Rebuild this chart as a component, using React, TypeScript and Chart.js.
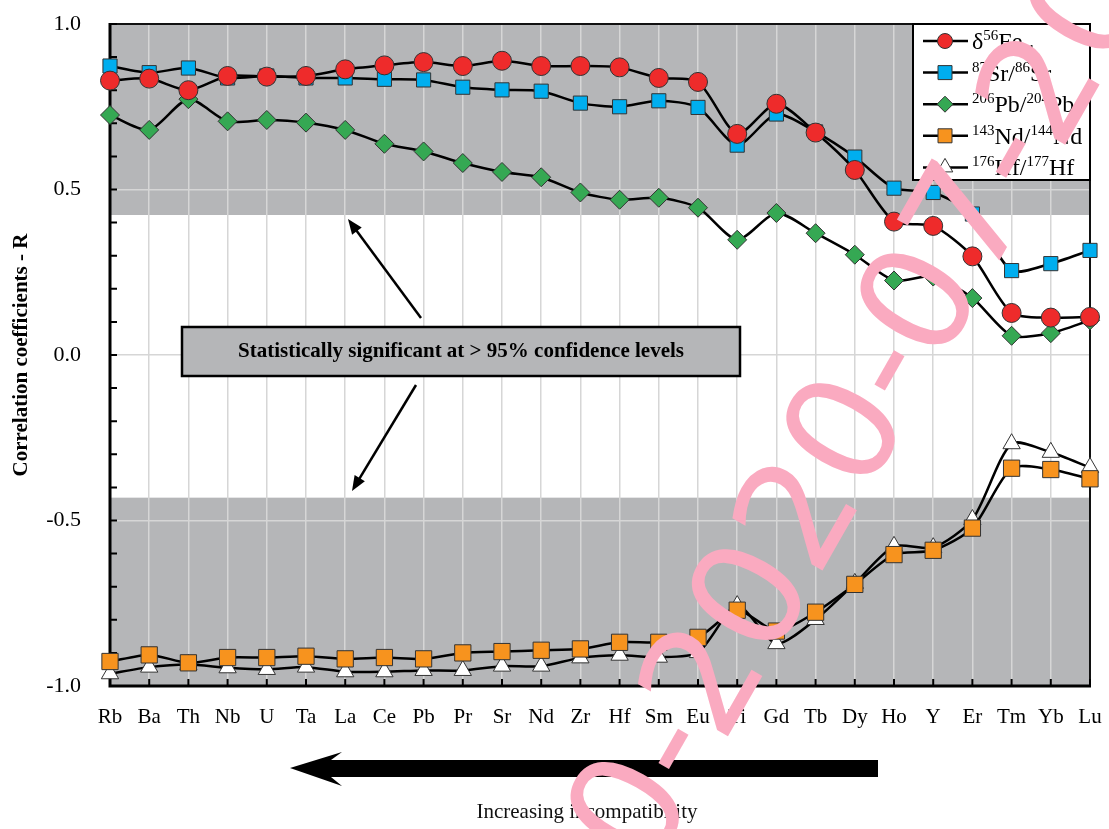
import React, { useEffect, useRef } from 'react';
import { Chart, registerables } from 'chart.js';

Chart.register(...registerables);

const elements = ['Rb','Ba','Th','Nb','U','Ta','La','Ce','Pb','Pr','Sr','Nd','Zr','Hf','Sm','Eu','Ti','Gd','Tb','Dy','Ho','Y','Er','Tm','Yb','Lu'];
const feValues = [0.829,0.835,0.800,0.843,0.841,0.843,0.863,0.875,0.885,0.873,0.889,0.873,0.873,0.869,0.837,0.825,0.668,0.759,0.672,0.559,0.403,0.390,0.298,0.127,0.113,0.115];
const srValues = [0.873,0.853,0.867,0.837,0.843,0.837,0.837,0.833,0.831,0.809,0.801,0.797,0.761,0.750,0.768,0.748,0.634,0.728,0.674,0.598,0.504,0.491,0.426,0.255,0.276,0.316];
const pbValues = [0.725,0.680,0.773,0.706,0.710,0.702,0.680,0.638,0.615,0.580,0.553,0.537,0.491,0.469,0.475,0.445,0.348,0.429,0.368,0.303,0.225,0.237,0.172,0.058,0.066,0.105];
const ndValues = [-0.926,-0.906,-0.930,-0.914,-0.914,-0.910,-0.918,-0.914,-0.918,-0.900,-0.896,-0.892,-0.888,-0.868,-0.868,-0.853,-0.771,-0.834,-0.777,-0.693,-0.603,-0.590,-0.523,-0.342,-0.346,-0.374];
const hfValues = [-0.963,-0.943,-0.935,-0.945,-0.950,-0.943,-0.957,-0.957,-0.953,-0.953,-0.940,-0.940,-0.915,-0.907,-0.913,-0.899,-0.757,-0.872,-0.799,-0.690,-0.578,-0.582,-0.497,-0.268,-0.294,-0.340];
const yTicks = [-1.0, -0.5, 0.0, 0.5, 1.0];
const bandUpper = 0.423;
const bandLower = -0.431;

const SERIF = '"Liberation Serif", "Times New Roman", serif';
const GRAY = '#b5b6b8';

type Part = { t: string; k?: 'sup' | 'sub' };
const legendItems: { style: string; color: string; parts: Part[] }[] = [
  { style: 'circle', color: '#ee2b2b', parts: [{ t: 'δ' }, { t: '56', k: 'sup' }, { t: 'Fe' }, { t: 'pl', k: 'sub' }] },
  { style: 'rect', color: '#00aeef', parts: [{ t: '87', k: 'sup' }, { t: 'Sr/' }, { t: '86', k: 'sup' }, { t: 'Sr' }] },
  { style: 'diamond', color: '#35a853', parts: [{ t: '206', k: 'sup' }, { t: 'Pb/' }, { t: '204', k: 'sup' }, { t: 'Pb' }] },
  { style: 'rect', color: '#f7931e', parts: [{ t: '143', k: 'sup' }, { t: 'Nd/' }, { t: '144', k: 'sup' }, { t: 'Nd' }] },
  { style: 'triangle', color: '#ffffff', parts: [{ t: '176', k: 'sup' }, { t: 'Hf/' }, { t: '177', k: 'sup' }, { t: 'Hf' }] },
];

function marker(ctx: CanvasRenderingContext2D, style: string, x: number, y: number, r: number, fill: string) {
  ctx.beginPath();
  if (style === 'circle') ctx.arc(x, y, r, 0, Math.PI * 2);
  else if (style === 'rect') ctx.rect(x - r, y - r, 2 * r, 2 * r);
  else if (style === 'diamond') { ctx.moveTo(x - r, y); ctx.lineTo(x, y - r); ctx.lineTo(x + r, y); ctx.lineTo(x, y + r); ctx.closePath(); }
  else { ctx.moveTo(x, y - r); ctx.lineTo(x + r * 0.866, y + r * 0.5); ctx.lineTo(x - r * 0.866, y + r * 0.5); ctx.closePath(); }
  ctx.fillStyle = fill;
  ctx.fill();
  ctx.lineWidth = 1;
  ctx.strokeStyle = '#333';
  ctx.stroke();
}

function arrowLine(ctx: CanvasRenderingContext2D, x1: number, y1: number, x2: number, y2: number) {
  const ang = Math.atan2(y2 - y1, x2 - x1);
  const hl = 15, hw = 6;
  ctx.beginPath();
  ctx.moveTo(x1, y1);
  ctx.lineTo(x2 - Math.cos(ang) * hl * 0.8, y2 - Math.sin(ang) * hl * 0.8);
  ctx.lineWidth = 2.5;
  ctx.strokeStyle = '#000';
  ctx.stroke();
  ctx.beginPath();
  ctx.moveTo(x2, y2);
  ctx.lineTo(x2 - Math.cos(ang) * hl - Math.sin(ang) * hw, y2 - Math.sin(ang) * hl + Math.cos(ang) * hw);
  ctx.lineTo(x2 - Math.cos(ang) * hl + Math.sin(ang) * hw, y2 - Math.sin(ang) * hl - Math.cos(ang) * hw);
  ctx.closePath();
  ctx.fillStyle = '#000';
  ctx.fill();
}

const decorPlugin = {
  id: 'decor',
  beforeDraw(chart: any) {
    const { ctx, chartArea: a, scales } = chart;
    const y = scales.y;
    ctx.save();
    ctx.fillStyle = GRAY;
    const t1 = y.getPixelForValue(1), t2 = y.getPixelForValue(bandUpper);
    ctx.fillRect(a.left, t1, a.right - a.left, t2 - t1);
    const b1 = y.getPixelForValue(bandLower), b2 = y.getPixelForValue(-1);
    ctx.fillRect(a.left, b1, a.right - a.left, b2 - b1);
    ctx.restore();
  },
  beforeDatasetsDraw(chart: any) {
    const { ctx, chartArea: a, scales } = chart;
    const x = scales.x, y = scales.y;
    ctx.save();
    ctx.strokeStyle = '#111';
    ctx.lineWidth = 2;
    ctx.beginPath();
    ctx.moveTo(a.left, a.top); ctx.lineTo(a.right, a.top); ctx.lineTo(a.right, a.bottom);
    ctx.stroke();
    ctx.strokeStyle = '#000';
    ctx.lineWidth = 3;
    ctx.beginPath();
    ctx.moveTo(a.left, a.top - 1); ctx.lineTo(a.left, a.bottom); ctx.lineTo(a.right + 1, a.bottom);
    ctx.stroke();
    ctx.lineWidth = 2;
    ctx.beginPath();
    for (let i = -10; i <= 10; i++) {
      const py = y.getPixelForValue(i / 10);
      ctx.moveTo(a.left, py); ctx.lineTo(a.left + 7, py);
    }
    for (let i = 0; i < elements.length; i++) {
      const px = x.getPixelForValue(i);
      ctx.moveTo(px, a.bottom); ctx.lineTo(px, a.bottom - 7);
    }
    ctx.stroke();
    ctx.restore();
  },
  afterDatasetsDraw(chart: any) {
    const { ctx, chartArea: a } = chart;
    ctx.save();
    ctx.fillStyle = GRAY;
    ctx.fillRect(182, 327, 558, 49);
    ctx.lineWidth = 2.5;
    ctx.strokeStyle = '#000';
    ctx.strokeRect(182, 327, 558, 49);
    ctx.fillStyle = '#000';
    ctx.font = `bold 21px ${SERIF}`;
    ctx.textAlign = 'center';
    ctx.textBaseline = 'middle';
    ctx.fillText('Statistically significant at > 95% confidence levels', 461, 352);
    arrowLine(ctx, 421, 318, 348, 219);
    arrowLine(ctx, 416, 385, 352, 491);

    const lx = a.right - 177, ly = a.top;
    ctx.fillStyle = '#fff';
    ctx.fillRect(lx, ly, 177, 156);
    ctx.lineWidth = 2;
    ctx.strokeStyle = '#000';
    ctx.strokeRect(lx, ly, 177, 156);
    legendItems.forEach((it, i) => {
      const cy = ly + 17 + i * 31.6;
      ctx.beginPath();
      ctx.moveTo(lx + 10, cy); ctx.lineTo(lx + 55, cy);
      ctx.lineWidth = 2.5; ctx.strokeStyle = '#000'; ctx.stroke();
      const r = it.style === 'circle' ? 7.5 : it.style === 'rect' ? 7 : it.style === 'diamond' ? 8 : 9;
      marker(ctx, it.style, lx + 32, cy, r, it.color);
      let tx = lx + 59;
      ctx.textAlign = 'left';
      ctx.textBaseline = 'alphabetic';
      ctx.fillStyle = '#000';
      const base = cy + 8;
      it.parts.forEach((p) => {
        if (p.k === 'sup') { ctx.font = `15px ${SERIF}`; ctx.fillText(p.t, tx, base - 9); }
        else if (p.k === 'sub') { ctx.font = `15px ${SERIF}`; ctx.fillText(p.t, tx, base + 6); }
        else { ctx.font = `24px ${SERIF}`; ctx.fillText(p.t, tx, base); }
        tx += ctx.measureText(p.t).width;
      });
    });

    ctx.save();
    ctx.translate(22, (a.top + a.bottom) / 2);
    ctx.rotate(-Math.PI / 2);
    ctx.font = `bold 21px ${SERIF}`;
    ctx.textAlign = 'center';
    ctx.textBaseline = 'middle';
    ctx.fillStyle = '#000';
    ctx.fillText('Correlation coefficients - R', 0, 0);
    ctx.restore();

    ctx.beginPath();
    ctx.moveTo(290, 768);
    ctx.lineTo(342, 752);
    ctx.lineTo(331, 760);
    ctx.lineTo(878, 760);
    ctx.lineTo(878, 777);
    ctx.lineTo(331, 777);
    ctx.lineTo(342, 786);
    ctx.closePath();
    ctx.fillStyle = '#000';
    ctx.fill();

    ctx.font = `21px ${SERIF}`;
    ctx.textAlign = 'center';
    ctx.textBaseline = 'middle';
    ctx.fillStyle = '#111';
    ctx.fillText('Increasing incompatibility', 587, 812);
    ctx.restore();
  },
  afterDraw(chart: any) {
    const { ctx } = chart;
    ctx.save();
    const size = 150;
    ctx.font = `${size}px "DejaVu Sans"`;
    ctx.fillStyle = 'rgb(250,170,192)';
    const s = '0-2020-07-20';
    const off = ctx.measureText('0').width + ctx.measureText('-').width / 2;
    ctx.translate(670, 747);
    ctx.rotate((-60.3 * Math.PI) / 180);
    ctx.textAlign = 'left';
    ctx.textBaseline = 'alphabetic';
    ctx.fillText(s, -off, 0.3 * size);
    ctx.restore();
  },
};

export default function App() {
  const ref = useRef<HTMLCanvasElement | null>(null);
  useEffect(() => {
    if (!ref.current) return;
    const common = { borderColor: '#000', borderWidth: 2.5, tension: 0.25, clip: false as any, pointBorderColor: '#333', pointBorderWidth: 1, fill: false };
    const chart = new Chart(ref.current, {
      type: 'line',
      data: {
        labels: elements,
        datasets: [
          { ...common, label: 'δ56Fe', data: feValues, pointStyle: 'circle', pointRadius: 9.5, pointBackgroundColor: '#ee2b2b' },
          { ...common, label: '87Sr/86Sr', data: srValues, pointStyle: 'rect', pointRadius: 10, pointBackgroundColor: '#00aeef' },
          { ...common, label: '206Pb/204Pb', data: pbValues, pointStyle: 'rectRot', pointRadius: 9.5, pointBackgroundColor: '#35a853' },
          { ...common, label: '143Nd/144Nd', data: ndValues, pointStyle: 'rect', pointRadius: 11.5, pointBackgroundColor: '#f7931e' },
          { ...common, label: '176Hf/177Hf', data: hfValues, pointStyle: 'triangle', pointRadius: 10, pointBackgroundColor: '#ffffff' },
        ] as any,
      },
      options: {
        responsive: false,
        animation: false,
        devicePixelRatio: 1,
        layout: { padding: { top: 24, right: 19, left: 0, bottom: 0 } },
        plugins: { legend: { display: false }, tooltip: { enabled: false } },
        scales: {
          x: {
            type: 'category',
            offset: false,
            grid: { color: '#d6d6d6', lineWidth: 1.5, drawTicks: false },
            border: { display: false },
            ticks: { color: '#000', font: { family: SERIF, size: 21 }, padding: 19, maxRotation: 0, autoSkip: false },
            afterFit: (s: any) => { s.height = 143; s.paddingLeft = 0; s.paddingRight = 0; },
          },
          y: {
            type: 'linear',
            min: -1,
            max: 1,
            afterBuildTicks: (s: any) => { s.ticks = yTicks.map((v) => ({ value: v })); },
            ticks: { color: '#000', font: { family: SERIF, size: 22 }, padding: 29, callback: (v: any) => Number(v).toFixed(1) },
            grid: { color: '#d6d6d6', lineWidth: 1.5, drawTicks: false },
            border: { display: false },
            afterFit: (s: any) => { s.width = 110; s.paddingTop = 0; s.paddingBottom = 0; },
          },
        },
      } as any,
      plugins: [decorPlugin],
    });
    return () => chart.destroy();
  }, []);
  return (
    <div style={{ position: 'fixed', left: 0, top: 0, width: 1109, height: 829, background: '#fff' }}>
      <canvas ref={ref} width={1109} height={829} style={{ display: 'block' }} />
    </div>
  );
}
